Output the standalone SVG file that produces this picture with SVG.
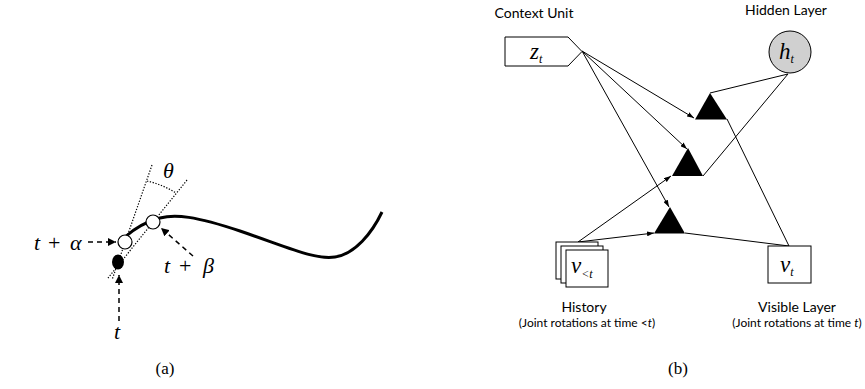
<svg xmlns="http://www.w3.org/2000/svg" width="865" height="389" viewBox="0 0 865 389">
<defs>
<style>
.math{font-family:"Liberation Serif",serif;font-style:italic;fill:#000}
.mathn{font-family:"Liberation Serif",serif;font-style:normal;fill:#000}
.lbl{font-family:Lato,"Open Sans",sans-serif;fill:#000}
.dot{stroke:#000;stroke-width:1.2;stroke-dasharray:1.3 1.6;fill:none}
.dash{stroke:#000;stroke-width:1.5;stroke-dasharray:5 4;fill:none}
.conn{stroke:#000;stroke-width:1;fill:none}
.tri{fill:#000}
.box{fill:#fff;stroke:#000;stroke-width:1}
</style>
<marker id="ah" viewBox="0 0 8 8" markerWidth="8" markerHeight="8" refX="8" refY="4" orient="auto" markerUnits="userSpaceOnUse">
<path d="M0,0 L8,4 L0,8 z" fill="#000"/>
</marker>
<marker id="sa" viewBox="0 0 7 5" markerWidth="7" markerHeight="5" refX="7" refY="2.5" orient="auto" markerUnits="userSpaceOnUse">
<path d="M0,0 L7,2.5 L0,5 z" fill="#000"/>
</marker>
</defs>
<rect width="865" height="389" fill="#fff"/>

<!-- Part (a) -->
<g id="panel-a">
<line class="dot" x1="152" y1="165" x2="112" y2="280"/>
<line class="dot" x1="187" y1="180" x2="108" y2="278"/>
<path class="dot" d="M147,181 A92,92 0 0 1 176,193"/>
<path d="M125,237 C135,228 145,222 160,218 C175,214 195,216 240,231 C290,248 315,260 335,257 C355,254 372,233 382,212" fill="none" stroke="#000" stroke-width="3"/>
<circle cx="125" cy="242" r="7" fill="#fff" stroke="#000" stroke-width="1.2"/>
<circle cx="153" cy="222" r="7" fill="#fff" stroke="#000" stroke-width="1.2"/>
<ellipse cx="118" cy="262" rx="6" ry="7.5" fill="#000"/>
<text class="math" x="163" y="178" font-size="22">θ</text>
<g id="label-alpha">
<text x="34" y="250" font-size="22"><tspan class="math">t</tspan><tspan class="mathn" x="48">+</tspan><tspan class="math" x="70">α</tspan></text>
<line class="dash" x1="88" y1="242" x2="116" y2="242" marker-end="url(#ah)"/>
</g>
<g id="label-beta">
<text x="164" y="273" font-size="22"><tspan class="math">t</tspan><tspan class="mathn" x="179">+</tspan><tspan class="math" x="203">β</tspan></text>
<line class="dash" x1="193" y1="256" x2="161" y2="228" marker-end="url(#ah)"/>
</g>
<g id="label-t">
<text class="math" x="114" y="339" font-size="22">t</text>
<line class="dash" x1="119" y1="321" x2="119" y2="275" marker-end="url(#ah)"/>
</g>
<text class="mathn" x="165" y="374" font-size="17" text-anchor="middle">(a)</text>
</g>

<!-- Part (b) -->
<g id="connectors">
<line class="conn" x1="582" y1="51" x2="694" y2="118" marker-end="url(#sa)"/>
<line class="conn" x1="582" y1="51" x2="687" y2="149" marker-end="url(#sa)"/>
<line class="conn" x1="582" y1="51" x2="669" y2="207" marker-end="url(#sa)"/>
<line class="conn" x1="578" y1="242" x2="671" y2="176" marker-end="url(#sa)"/>
<line class="conn" x1="578" y1="242" x2="654" y2="233" marker-end="url(#sa)"/>
<line class="conn" x1="788" y1="74" x2="710" y2="93"/>
<line class="conn" x1="788" y1="74" x2="703" y2="176"/>
<line class="conn" x1="727" y1="119" x2="789" y2="246"/>
<line class="conn" x1="685" y1="233" x2="789" y2="246"/>
</g>

<g id="tri-top"><polygon class="tri" points="710,93 695,119.5 727,119.5"/></g>
<g id="tri-mid"><polygon class="tri" points="688,148 672,176 703,176"/></g>
<g id="tri-bot"><polygon class="tri" points="670,207 654,233.5 685,233.5"/></g>

<g id="context-unit">
<text class="lbl" x="534" y="18" font-size="14" text-anchor="middle">Context Unit</text>
<polygon class="box" points="505,37 568,37 582,51.5 568,66 505,66"/>
<text class="math" x="530" y="59" font-size="23">z<tspan font-size="12" dy="4">t</tspan></text>
</g>

<g id="hidden-layer">
<text class="lbl" x="786" y="15" font-size="14" text-anchor="middle">Hidden Layer</text>
<circle cx="790" cy="52" r="21" fill="#d0d0d0" stroke="#000" stroke-width="1"/>
<text class="math" x="779" y="59" font-size="23">h<tspan font-size="12" dy="4">t</tspan></text>
</g>

<g id="history">
<rect class="box" x="556" y="242" width="42" height="37"/>
<rect class="box" x="561" y="246" width="42" height="37"/>
<rect class="box" x="566" y="250" width="42" height="37"/>
<text class="math" x="571" y="273" font-size="23">v<tspan font-size="12" dy="5">&lt;t</tspan></text>
<text class="lbl" x="584" y="312" font-size="14" text-anchor="middle">History</text>
<text class="lbl" x="587" y="327" font-size="12" text-anchor="middle">(Joint rotations at time &lt;<tspan font-style="italic">t</tspan>)</text>
</g>

<g id="visible-layer">
<rect class="box" x="768" y="246" width="43" height="37"/>
<text class="math" x="780" y="272" font-size="23">v<tspan font-size="12" dy="4">t</tspan></text>
<text class="lbl" x="797" y="312" font-size="14" text-anchor="middle">Visible  Layer</text>
<text class="lbl" x="797" y="327" font-size="12" text-anchor="middle">(Joint rotations at time <tspan font-style="italic">t</tspan>)</text>
</g>

<text class="mathn" x="678" y="374" font-size="17" text-anchor="middle">(b)</text>
</svg>
